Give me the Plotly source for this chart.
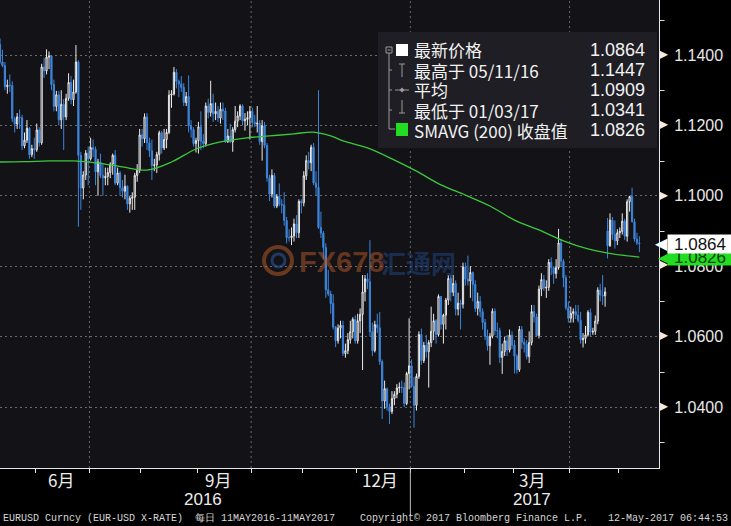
import plotly.graph_objects as go
import pandas as pd

# ---------------- data ----------------
start_date = "2016-05-11"
end_date = "2017-05-11"

open_ = [
    # May 2016
    1.1430,1.1380,1.1370,1.1310,1.1314,1.1313,1.1219,1.1204,1.1224,1.1222,1.1142,1.1158,1.1192,1.1117,1.1134,
    # Jun
    1.1131,1.1187,1.1151,1.1366,1.1355,1.1394,1.1397,1.1316,1.1254,1.1287,1.1216,1.1260,1.1224,1.1277,1.1322,1.1273,1.1295,1.1380,1.1115,1.1022,1.1059,1.1121,
    # Jul
    1.1105,1.1137,1.1132,1.1068,1.1096,1.1058,1.1051,1.1055,1.1066,1.1090,1.1115,1.1036,1.1065,1.1023,1.1013,1.1027,1.0977,1.0993,1.0996,1.1058,1.1073,
    # Aug
    1.1173,1.1162,1.1224,1.1151,1.1128,1.1086,1.1088,1.1117,1.1179,1.1136,1.1160,1.1180,1.1286,1.1289,1.1351,1.1325,1.1318,1.1308,1.1265,1.1282,1.1198,1.1188,1.1148,
    # Sep
    1.1157,1.1196,1.1155,1.1148,1.1255,1.1237,1.1262,1.1233,1.1240,1.1221,1.1246,1.1241,1.1154,1.1170,1.1153,1.1188,1.1212,1.1227,1.1255,1.1213,1.1217,1.1222,
    # Oct
    1.1240,1.1209,1.1204,1.1206,1.1154,1.1199,1.1143,1.1051,1.1005,1.1058,1.0971,1.0998,1.0976,1.0974,1.0930,1.0881,1.0881,1.0886,1.0920,1.0895,1.0984,
    # Nov
    1.0980,1.1057,1.1100,1.1094,1.1138,1.1036,1.1024,1.0910,1.0894,1.0853,1.0733,1.0721,1.0694,1.0627,1.0588,1.0624,1.0632,1.0552,1.0560,1.0591,1.0614,1.0649,
    # Dec
    1.0588,1.0645,1.0663,1.0727,1.0764,1.0756,1.0614,1.0560,1.0634,1.0625,1.0529,1.0417,1.0452,1.0401,1.0387,1.0424,1.0436,1.0454,1.0456,1.0455,1.0410,1.0495,
    # Jan 2017
    1.0517,1.0459,1.0405,1.0487,1.0606,1.0532,1.0575,1.0557,1.0583,1.0615,1.0645,1.0606,1.0714,1.0635,1.0661,1.0704,1.0765,1.0726,1.0751,1.0678,1.0695,1.0692,
    # Feb
    1.0798,1.0763,1.0758,1.0782,1.0748,1.0680,1.0700,1.0671,1.0640,1.0601,1.0574,1.0601,1.0672,1.0617,1.0617,1.0541,1.0558,1.0588,1.0562,1.0604,
    # Mar
    1.0576,1.0545,1.0506,1.0620,1.0584,1.0578,1.0543,1.0583,1.0671,1.0656,1.0603,1.0735,1.0762,1.0738,1.0740,1.0811,1.0796,1.0779,1.0796,1.0866,1.0814,1.0767,1.0682,
    # Apr
    1.0652,1.0666,1.0671,1.0661,1.0646,1.0591,1.0595,1.0605,1.0669,1.0613,1.0615,1.0644,1.0732,1.0718,1.0716,1.0900,1.0858,1.0931,1.0890,1.0872,
    # May
    1.0895,1.0899,1.0928,1.0885,1.0983,1.0998,1.0926,1.0877,1.0866,
]

high = [
    1.1447,1.1415,1.1380,1.1330,1.1345,1.1325,1.1225,1.1235,1.1245,1.1230,1.1180,1.1215,1.1195,1.1145,1.1165,
    1.1205,1.1195,1.1375,1.1392,1.1416,1.1410,1.1400,1.1330,1.1298,1.1298,1.1300,1.1275,1.1290,1.1348,1.1340,1.1330,1.1428,1.1385,1.1125,1.1070,1.1130,1.1140,
    1.1165,1.1160,1.1140,1.1105,1.1120,1.1090,1.1080,1.1080,1.1095,1.1120,1.1130,1.1080,1.1070,1.1045,1.1060,1.1030,1.1000,1.1010,1.1065,1.1090,1.1190,
    1.1190,1.1234,1.1235,1.1165,1.1160,1.1105,1.1125,1.1185,1.1185,1.1190,1.1190,1.1300,1.1300,1.1366,1.1360,1.1330,1.1340,1.1320,1.1295,1.1342,1.1215,1.1195,1.1165,
    1.1210,1.1240,1.1175,1.1265,1.1276,1.1327,1.1290,1.1265,1.1255,1.1265,1.1265,1.1250,1.1190,1.1205,1.1195,1.1255,1.1240,1.1260,1.1260,1.1235,1.1240,1.1255,
    1.1250,1.1230,1.1255,1.1215,1.1215,1.1210,1.1150,1.1060,1.1075,1.1065,1.1005,1.1035,1.0990,1.1010,1.0940,1.0905,1.0910,1.0935,1.0945,1.0990,1.0990,
    1.1070,1.1115,1.1125,1.1145,1.1150,1.1070,1.1300,1.0955,1.0900,1.0865,1.0790,1.0730,1.0720,1.0630,1.0635,1.0645,1.0645,1.0580,1.0610,1.0645,1.0655,1.0660,
    1.0665,1.0680,1.0775,1.0775,1.0780,1.0874,1.0640,1.0645,1.0665,1.0670,1.0535,1.0475,1.0455,1.0410,1.0445,1.0445,1.0465,1.0470,1.0475,1.0470,1.0500,1.0652,
    1.0535,1.0485,1.0495,1.0615,1.0623,1.0585,1.0605,1.0590,1.0685,1.0665,1.0650,1.0720,1.0715,1.0665,1.0710,1.0775,1.0775,1.0775,1.0760,1.0725,1.0705,1.0810,
    1.0810,1.0830,1.0800,1.0785,1.0760,1.0725,1.0715,1.0680,1.0650,1.0620,1.0610,1.0680,1.0680,1.0640,1.0625,1.0580,1.0600,1.0605,1.0620,1.0615,
    1.0590,1.0550,1.0630,1.0630,1.0595,1.0590,1.0615,1.0690,1.0690,1.0665,1.0745,1.0780,1.0775,1.0760,1.0820,1.0825,1.0800,1.0820,1.0906,1.0875,1.0820,1.0775,1.0700,
    1.0685,1.0680,1.0690,1.0690,1.0670,1.0610,1.0630,1.0675,1.0680,1.0625,1.0660,1.0740,1.0750,1.0775,1.0740,1.0937,1.0950,1.0940,1.0930,1.0905,
    1.0910,1.0950,1.0935,1.0990,1.1000,1.1023,1.0935,1.0895,1.0885,
]

low = [
    1.1375,1.1365,1.1300,1.1290,1.1295,1.1210,1.1180,1.1190,1.1190,1.1130,1.1135,1.1150,1.1105,1.1110,1.1105,
    1.1125,1.1140,1.1145,1.1335,1.1345,1.1360,1.1300,1.1240,1.1240,1.1200,1.1190,1.1130,1.1215,1.1270,1.1260,1.1255,1.1290,1.0912,1.0960,1.0990,1.1045,1.1030,
    1.1100,1.1110,1.1030,1.1000,1.1050,1.1000,1.1030,1.1030,1.1050,1.1060,1.1030,1.1030,1.1000,1.0995,1.0990,1.0960,1.0952,1.0960,1.0960,1.1040,1.1065,
    1.1140,1.1150,1.1130,1.1110,1.1045,1.1070,1.1065,1.1100,1.1120,1.1130,1.1135,1.1175,1.1250,1.1285,1.1305,1.1280,1.1295,1.1255,1.1255,1.1180,1.1165,1.1140,1.1123,
    1.1120,1.1130,1.1135,1.1140,1.1220,1.1225,1.1210,1.1215,1.1210,1.1205,1.1215,1.1150,1.1150,1.1150,1.1125,1.1180,1.1195,1.1215,1.1200,1.1185,1.1200,1.1160,
    1.1195,1.1195,1.1180,1.1145,1.1100,1.1135,1.1040,1.0985,1.0995,1.0965,1.0965,1.0970,1.0950,1.0915,1.0865,1.0870,1.0860,1.0870,1.0880,1.0880,1.0950,
    1.0970,1.1045,1.1075,1.1070,1.1030,1.1000,1.0906,1.0880,1.0820,1.0710,1.0715,1.0665,1.0620,1.0570,1.0580,1.0595,1.0545,1.0540,1.0550,1.0580,1.0595,1.0580,
    1.0580,1.0610,1.0505,1.0700,1.0735,1.0600,1.0545,1.0555,1.0610,1.0520,1.0366,1.0395,1.0390,1.0352,1.0380,1.0405,1.0425,1.0440,1.0440,1.0400,1.0405,1.0450,
    1.0455,1.0341,1.0390,1.0480,1.0520,1.0525,1.0540,1.0455,1.0570,1.0590,1.0580,1.0600,1.0620,1.0580,1.0620,1.0690,1.0700,1.0715,1.0660,1.0660,1.0620,1.0680,
    1.0745,1.0745,1.0710,1.0700,1.0670,1.0660,1.0655,1.0620,1.0590,1.0560,1.0520,1.0595,1.0605,1.0595,1.0525,1.0494,1.0545,1.0545,1.0555,1.0565,
    1.0495,1.0495,1.0500,1.0565,1.0555,1.0535,1.0525,1.0575,1.0640,1.0600,1.0595,1.0715,1.0730,1.0710,1.0730,1.0775,1.0750,1.0765,1.0790,1.0800,1.0740,1.0675,1.0640,
    1.0640,1.0640,1.0650,1.0640,1.0580,1.0569,1.0580,1.0600,1.0600,1.0605,1.0605,1.0635,1.0700,1.0690,1.0685,1.0822,1.0855,1.0875,1.0850,1.0860,
    1.0880,1.0890,1.0875,1.0870,1.0955,1.0925,1.0870,1.0860,1.0840,
]

close = [
    1.1380,1.1370,1.1310,1.1314,1.1313,1.1219,1.1204,1.1224,1.1222,1.1142,1.1158,1.1192,1.1117,1.1134,1.1131,
    1.1187,1.1151,1.1366,1.1355,1.1394,1.1397,1.1316,1.1254,1.1287,1.1216,1.1260,1.1224,1.1277,1.1322,1.1273,1.1295,1.1380,1.1115,1.1022,1.1059,1.1121,1.1105,
    1.1137,1.1132,1.1068,1.1096,1.1058,1.1051,1.1055,1.1066,1.1090,1.1115,1.1036,1.1065,1.1023,1.1013,1.1027,1.0977,1.0993,1.0996,1.1058,1.1073,1.1173,
    1.1162,1.1224,1.1151,1.1128,1.1086,1.1088,1.1117,1.1179,1.1136,1.1160,1.1180,1.1286,1.1289,1.1351,1.1325,1.1318,1.1308,1.1265,1.1282,1.1198,1.1188,1.1148,1.1157,
    1.1196,1.1155,1.1148,1.1255,1.1237,1.1262,1.1233,1.1240,1.1221,1.1246,1.1241,1.1154,1.1170,1.1153,1.1188,1.1212,1.1227,1.1255,1.1213,1.1217,1.1222,1.1240,
    1.1209,1.1204,1.1206,1.1154,1.1199,1.1143,1.1051,1.1005,1.1058,1.0971,1.0998,1.0976,1.0974,1.0930,1.0881,1.0881,1.0886,1.0920,1.0895,1.0984,1.0980,
    1.1057,1.1100,1.1094,1.1138,1.1036,1.1024,1.0910,1.0894,1.0853,1.0733,1.0721,1.0694,1.0627,1.0588,1.0624,1.0632,1.0552,1.0560,1.0591,1.0614,1.0649,1.0588,
    1.0645,1.0663,1.0727,1.0764,1.0756,1.0614,1.0560,1.0634,1.0625,1.0529,1.0417,1.0452,1.0401,1.0387,1.0424,1.0436,1.0454,1.0456,1.0455,1.0410,1.0495,1.0517,
    1.0459,1.0405,1.0487,1.0606,1.0532,1.0575,1.0557,1.0583,1.0615,1.0645,1.0606,1.0714,1.0635,1.0661,1.0704,1.0765,1.0726,1.0751,1.0678,1.0695,1.0692,1.0798,
    1.0763,1.0758,1.0782,1.0748,1.0680,1.0700,1.0671,1.0640,1.0601,1.0574,1.0601,1.0672,1.0617,1.0617,1.0541,1.0558,1.0588,1.0562,1.0604,1.0576,
    1.0545,1.0506,1.0620,1.0584,1.0578,1.0543,1.0583,1.0671,1.0656,1.0603,1.0735,1.0762,1.0738,1.0740,1.0811,1.0796,1.0779,1.0796,1.0866,1.0814,1.0767,1.0682,1.0652,
    1.0666,1.0671,1.0661,1.0646,1.0591,1.0595,1.0605,1.0669,1.0613,1.0615,1.0644,1.0732,1.0718,1.0716,1.0727,1.0858,1.0931,1.0890,1.0872,1.0895,
    1.0899,1.0928,1.0885,1.0983,1.0998,1.0926,1.0877,1.0866,1.0864,
]

# 200-day simple moving average, read at every ~10th trading day
sma_day = [0, 10, 20, 30, 40, 50, 60, 70, 80, 90, 100, 110, 120, 128, 135, 140,
           150, 160, 170, 180, 190, 200, 210, 220, 230, 240, 250, 261]
sma200 = [1.1096, 1.1097, 1.1099, 1.1099, 1.1093, 1.1082, 1.1073, 1.1096, 1.1133, 1.1153,
          1.1164, 1.1170, 1.1176, 1.1181, 1.1170, 1.1156, 1.1136, 1.1105, 1.1070, 1.1031,
          1.1002, 1.0971, 1.0931, 1.0903, 1.0872, 1.0849, 1.0835, 1.0826]

y_ticks = [1.04, 1.06, 1.08, 1.10, 1.12, 1.14]
y_minor = [1.03, 1.05, 1.07, 1.09, 1.11, 1.13, 1.15]

month_labels = ["6月", "9月", "12月", "3月"]
month_label_dates = ["2016-06-15", "2016-09-13", "2016-12-14", "2017-03-10"]
year_labels = ["2016", "2017"]
year_label_dates = ["2016-09-05", "2017-03-10"]

legend_names = ["最新价格", "最高于 05/11/16", "平均", "最低于 01/03/17", "SMAVG (200) 收盘值"]
legend_values = ["1.0864", "1.1447", "1.0909", "1.0341", "1.0826"]
last_price = 1.0864
last_sma = 1.0826

footer_left = "EURUSD Curncy (EUR-USD X-RATE)  每日 11MAY2016-11MAY2017"
footer_mid = "Copyright© 2017 Bloomberg Finance L.P."
footer_right = "12-May-2017 06:44:53"

# ---------------- geometry helpers ----------------
W, H = 731, 526
PW, PH = 659, 468            # plot area size in px
XR = [0.0, 269.0]            # x range in trading-day index
YR = [1.14 - (PH - 55) * 0.02 / 70.4, 1.14 + 55 * 0.02 / 70.4]


def xp(px):
    return px / PW


def yp(py):
    return 1 - py / PH


def yv(v):
    return (v - YR[0]) / (YR[1] - YR[0])


n = min(len(open_), len(high), len(low), len(close))
dates = pd.bdate_range(start_date, end_date)[:n]
x_idx = list(range(n))


def idx_of(d):
    return int(dates.searchsorted(pd.Timestamp(d)))


def paper_x(i):
    return (i - XR[0]) / (XR[1] - XR[0])


boundaries = [i - 0.5 for i in range(1, n) if dates[i].month != dates[i - 1].month]
quarter_bounds = [i - 0.5 for i in range(1, n)
                  if dates[i].month != dates[i - 1].month and dates[i].month in (1, 4, 7, 10)]
year_bound = [i - 0.5 for i in range(1, n) if dates[i].year != dates[i - 1].year][0]

BG = "#121217"
BLUE = "#3d86dc"
WHITE = "#ececec"
GREEN = "#22dd22"
GRID = "#6a6a6a"

fig = go.Figure()
fig.add_trace(go.Candlestick(
    x=x_idx, open=open_[:n], high=high[:n], low=low[:n], close=close[:n],
    increasing=dict(line=dict(color=WHITE, width=1), fillcolor=BG),
    decreasing=dict(line=dict(color=BLUE, width=1), fillcolor=BLUE),
    whiskerwidth=0, showlegend=False, hoverinfo="skip"))
fig.add_trace(go.Scatter(
    x=sma_day, y=sma200, mode="lines", line=dict(color="#3cc83c", width=1.3, shape="spline"),
    showlegend=False, hoverinfo="skip"))

shapes = []
annotations = []

for b in quarter_bounds:
    shapes.append(dict(type="line", xref="x", yref="paper", x0=b, x1=b, y0=0, y1=1,
                       line=dict(color=GRID, width=1, dash="2px,3px"), layer="below"))

shapes.append(dict(type="line", xref="paper", yref="paper", x0=paper_x(year_bound), x1=paper_x(year_bound),
                   y0=yp(470), y1=yp(516), line=dict(color="#bdbdbd", width=1)))

# short dashes at the unlabelled y ticks (right of the axis)
for v in y_minor:
    if YR[0] <= v <= YR[1]:
        annotations.append(dict(text="–", xref="paper", yref="paper", x=xp(658), y=yv(v), xanchor="left",
                                yanchor="middle", showarrow=False, borderpad=0,
                                font=dict(family="DejaVu Sans", size=12, color=WHITE)))

# right-pointing triangles at labelled y ticks
for v in y_ticks:
    annotations.append(dict(text="◀", xref="paper", yref="paper", x=xp(658), y=yv(v), xanchor="left",
                            yanchor="middle", showarrow=False, borderpad=0, textangle=180,
                            font=dict(family="DejaVu Sans", size=11, color=WHITE)))

# legend box
shapes.append(dict(type="rect", xref="paper", yref="paper", x0=xp(378), x1=xp(657), y0=yp(148), y1=yp(32),
                   fillcolor="#1e1e24", line=dict(width=0), layer="above"))
TREE = "#9a9a9a"
shapes.append(dict(type="line", xref="paper", yref="paper", x0=xp(389), x1=xp(389), y0=yp(53), y1=yp(129),
                   line=dict(color=TREE, width=1), layer="above"))
shapes.append(dict(type="rect", xref="paper", yref="paper", x0=xp(386), x1=xp(392), y0=yp(53), y1=yp(47),
                   fillcolor="#1e1e24", line=dict(color=TREE, width=1), layer="above"))
shapes.append(dict(type="line", xref="paper", yref="paper", x0=xp(387.5), x1=xp(390.5), y0=yp(50), y1=yp(50),
                   line=dict(color=TREE, width=1), layer="above"))
for ry in [70, 90, 110]:
    shapes.append(dict(type="line", xref="paper", yref="paper", x0=xp(389), x1=xp(392), y0=yp(ry), y1=yp(ry),
                       line=dict(color=TREE, width=1), layer="above"))
shapes.append(dict(type="line", xref="paper", yref="paper", x0=xp(389), x1=xp(395), y0=yp(129), y1=yp(129),
                   line=dict(color=TREE, width=1), layer="above"))
shapes.append(dict(type="rect", xref="paper", yref="paper", x0=xp(396), x1=xp(408), y0=yp(56), y1=yp(44),
                   fillcolor="#ffffff", line=dict(width=0), layer="above"))
shapes.append(dict(type="line", xref="paper", yref="paper", x0=xp(402), x1=xp(402), y0=yp(64), y1=yp(77),
                   line=dict(color=TREE, width=1), layer="above"))
shapes.append(dict(type="line", xref="paper", yref="paper", x0=xp(399), x1=xp(405), y0=yp(64), y1=yp(64),
                   line=dict(color=TREE, width=1), layer="above"))
shapes.append(dict(type="line", xref="paper", yref="paper", x0=xp(395), x1=xp(409), y0=yp(90), y1=yp(90),
                   line=dict(color=TREE, width=1), layer="above"))
shapes.append(dict(type="path", xref="paper", yref="paper",
                   path=f"M {xp(399.5)},{yp(90)} L {xp(402)},{yp(87.5)} L {xp(404.5)},{yp(90)} L {xp(402)},{yp(92.5)} Z",
                   fillcolor=TREE, line=dict(width=0), layer="above"))
shapes.append(dict(type="line", xref="paper", yref="paper", x0=xp(402), x1=xp(402), y0=yp(100), y1=yp(113),
                   line=dict(color=TREE, width=1), layer="above"))
shapes.append(dict(type="line", xref="paper", yref="paper", x0=xp(399), x1=xp(405), y0=yp(113), y1=yp(113),
                   line=dict(color=TREE, width=1), layer="above"))
shapes.append(dict(type="rect", xref="paper", yref="paper", x0=xp(396), x1=xp(408), y0=yp(136), y1=yp(123),
                   fillcolor=GREEN, line=dict(width=0), layer="above"))

for k, (nm, val) in enumerate(zip(legend_names, legend_values)):
    ry = 50 + k * 20
    annotations.append(dict(text=nm, xref="paper", yref="paper", x=xp(412), y=yp(ry), xanchor="left",
                            yanchor="middle", showarrow=False,
                            font=dict(family="Noto Sans CJK SC", size=17, color="#f2f2f2")))
    annotations.append(dict(text=val, xref="paper", yref="paper", x=xp(647), y=yp(ry), xanchor="right",
                            yanchor="middle", showarrow=False,
                            font=dict(family="Liberation Sans, Arial", size=18, color="#f2f2f2")))

# watermark
shapes.append(dict(type="circle", xref="paper", yref="paper", x0=xp(264), x1=xp(292), y0=yp(274), y1=yp(247),
                   line=dict(color="rgba(190,95,40,0.5)", width=4), layer="above"))
shapes.append(dict(type="circle", xref="paper", yref="paper", x0=xp(272), x1=xp(285), y0=yp(267), y1=yp(254),
                   line=dict(color="rgba(50,90,160,0.55)", width=3), layer="above"))
annotations.append(dict(text="<b>FX678</b>", xref="paper", yref="paper", x=xp(341), y=yp(262), xanchor="center",
                        yanchor="middle", showarrow=False,
                        font=dict(family="Liberation Sans, Arial", size=29, color="rgba(185,90,40,0.5)")))
annotations.append(dict(text="<b>汇通网</b>", xref="paper", yref="paper", x=xp(418), y=yp(262), xanchor="center",
                        yanchor="middle", showarrow=False,
                        font=dict(family="Noto Sans CJK SC", size=25, color="rgba(35,70,130,0.55)")))

# price tags: green (SMA) first, white (last price) drawn over it
for val, txt, bg, fg, hgt, tip in [(last_sma, "1.0826", GREEN, "#0b3d0b", 15, 13),
                                   (last_price, "1.0864", "#ffffff", "#111111", 18, 16)]:
    annotations.append(dict(text="◀", xref="paper", yref="paper", x=xp(669), y=yv(val), xanchor="right",
                            yanchor="middle", showarrow=False, borderpad=0,
                            font=dict(family="DejaVu Sans", size=tip, color=bg)))
    annotations.append(dict(text=txt, xref="paper", yref="paper", x=xp(667), y=yv(val), xanchor="left",
                            yanchor="middle", showarrow=False, bgcolor=bg, width=64, height=hgt, borderpad=0,
                            font=dict(family="Liberation Sans, Arial", size=17, color=fg)))

for lab, dd in zip(month_labels, month_label_dates):
    annotations.append(dict(text=lab, xref="paper", yref="paper", x=paper_x(idx_of(dd)), y=yp(480),
                            xanchor="center", yanchor="middle", showarrow=False,
                            font=dict(family="Noto Sans CJK SC", size=17, color="#ececec")))
for lab, dd in zip(year_labels, year_label_dates):
    annotations.append(dict(text=lab, xref="paper", yref="paper", x=paper_x(idx_of(dd)), y=yp(499),
                            xanchor="center", yanchor="middle", showarrow=False,
                            font=dict(family="Liberation Sans, Arial", size=17, color="#ececec")))

FOOT = dict(family="Liberation Mono, DejaVu Sans Mono", size=10, color="#d8d8d8")
annotations.append(dict(text=footer_left, xref="paper", yref="paper", x=xp(1), y=yp(518), xanchor="left",
                        yanchor="middle", showarrow=False, font=FOOT))
annotations.append(dict(text=footer_mid, xref="paper", yref="paper", x=xp(358), y=yp(518), xanchor="left",
                        yanchor="middle", showarrow=False, font=FOOT))
annotations.append(dict(text=footer_right, xref="paper", yref="paper", x=xp(730), y=yp(518), xanchor="right",
                        yanchor="middle", showarrow=False, font=FOOT))

fig.update_layout(
    width=W, height=H,
    margin=dict(l=0, r=W - PW, t=0, b=H - PH, autoexpand=False),
    paper_bgcolor="#000000", plot_bgcolor=BG,
    showlegend=False,
    xaxis=dict(range=XR, rangeslider=dict(visible=False), showgrid=False, zeroline=False,
               showline=True, linecolor="#e6e6e6", linewidth=1,
               tickmode="array", tickvals=boundaries, ticks="outside", ticklen=4, tickcolor="#e6e6e6",
               showticklabels=False, fixedrange=True),
    yaxis=dict(side="right", range=YR, tickmode="array", tickvals=y_ticks,
               ticktext=[f"{v:.4f}" for v in y_ticks],
               showgrid=True, gridcolor=GRID, griddash="2px,3px", gridwidth=1, zeroline=False,
               showline=True, linecolor="#e6e6e6", linewidth=1, ticks="", ticklabelstandoff=11,
               tickfont=dict(family="Liberation Sans, Arial", size=16, color="#e8e8e8"),
               fixedrange=True),
    shapes=shapes,
    annotations=annotations,
)

fig.write_html("out.html", config={"displayModeBar": False},
               post_script="document.body.style.margin='0';document.body.style.background='#000';")
